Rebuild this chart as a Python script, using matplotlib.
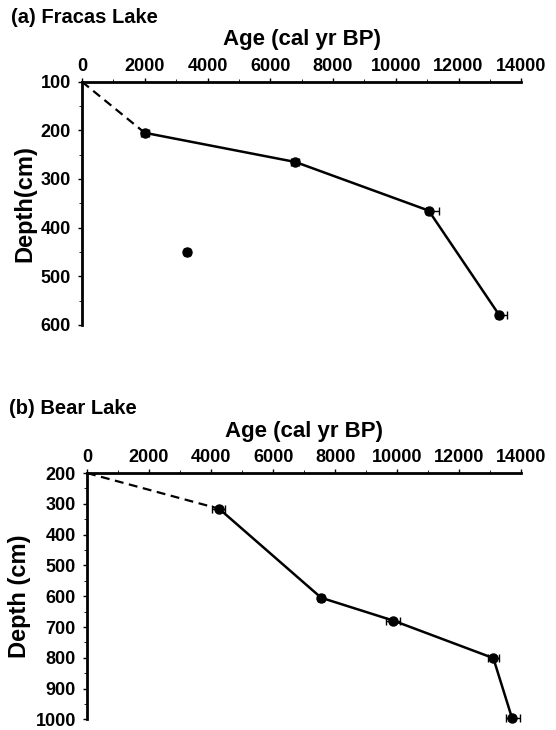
import numpy as np
import matplotlib.pyplot as plt
from matplotlib.ticker import MultipleLocator

plt.rcParams['font.family'] = ['Liberation Sans', 'DejaVu Sans']
plt.rcParams['font.weight'] = 'bold'

# (a) Fracas Lake
age_a = [2000, 6800, 11050, 13300]
depth_a = [205, 265, 365, 580]
err_a_lo = [130, 130, 100, 100]
err_a_hi = [130, 130, 340, 250]
outlier_age_a = [3350]
outlier_depth_a = [450]
top_a = (0, 100)

# (b) Bear Lake
age_b = [4260, 7550, 9870, 13100, 13700]
depth_b = [316, 605, 679, 801, 995]
err_b_lo = [215, 100, 215, 170, 200]
err_b_hi = [180, 100, 215, 190, 270]
top_b = (0, 200)

xticks = np.arange(0, 14001, 2000)

fig = plt.figure(figsize=(5.56, 7.30), dpi=100)
ax_a = fig.add_axes([0.1475, 0.555, 0.79, 0.333])
ax_b = fig.add_axes([0.1565, 0.0145, 0.781, 0.3375])


def style(ax, ymin, ymax, ylab, xpad):
    ax.set_xlim(0, 14000)
    ax.set_ylim(ymax, ymin)
    ax.set_xticks(xticks)
    ax.set_yticks(np.arange(ymin, ymax + 1, 100))
    ax.xaxis.set_minor_locator(MultipleLocator(1000))
    ax.yaxis.set_minor_locator(MultipleLocator(50))
    ax.xaxis.tick_top()
    ax.xaxis.set_label_position('top')
    for s in ['right', 'bottom']:
        ax.spines[s].set_visible(False)
    for s in ['top', 'left']:
        ax.spines[s].set_linewidth(2)
    ax.tick_params(which='major', length=3, width=1, labelsize=13, pad=2)
    ax.tick_params(axis='y', which='major', pad=5)
    ax.tick_params(which='minor', length=2, width=0.6)
    ax.set_xlabel('Age (cal yr BP)', fontsize=16, fontweight='bold', labelpad=xpad)
    ax.set_ylabel(ylab, fontsize=17, fontweight='bold', labelpad=3)
    for lab in ax.get_xticklabels() + ax.get_yticklabels():
        lab.set_fontweight('bold')


def draw(ax, ages, depths, lo, hi, top):
    ax.plot([top[0], ages[0]], [top[1], depths[0]], color='black', lw=1.6,
            ls=(0, (4, 2.5)), clip_on=False)
    ax.plot(ages, depths, color='black', lw=1.8, clip_on=False)
    ax.errorbar(ages, depths, xerr=[lo, hi], fmt='o', color='black',
                ms=6.5, elinewidth=1, capsize=3, capthick=1, clip_on=False)


style(ax_a, 100, 600, 'Depth(cm)', 9)
draw(ax_a, age_a, depth_a, err_a_lo, err_a_hi, top_a)
ax_a.errorbar(outlier_age_a, outlier_depth_a, xerr=[[100], [100]], fmt='o',
              color='black', ms=6.5, elinewidth=1, capsize=3, capthick=1)

style(ax_b, 200, 1000, 'Depth (cm)', 9)
draw(ax_b, age_b, depth_b, err_b_lo, err_b_hi, top_b)

fig.text(0.020, 0.976, '(a) Fracas Lake', fontsize=14.5, fontweight='bold',
         va='center', ha='left')
fig.text(0.016, 0.441, '(b) Bear Lake', fontsize=14.5, fontweight='bold',
         va='center', ha='left')

fig.savefig('out.png', dpi=100)
